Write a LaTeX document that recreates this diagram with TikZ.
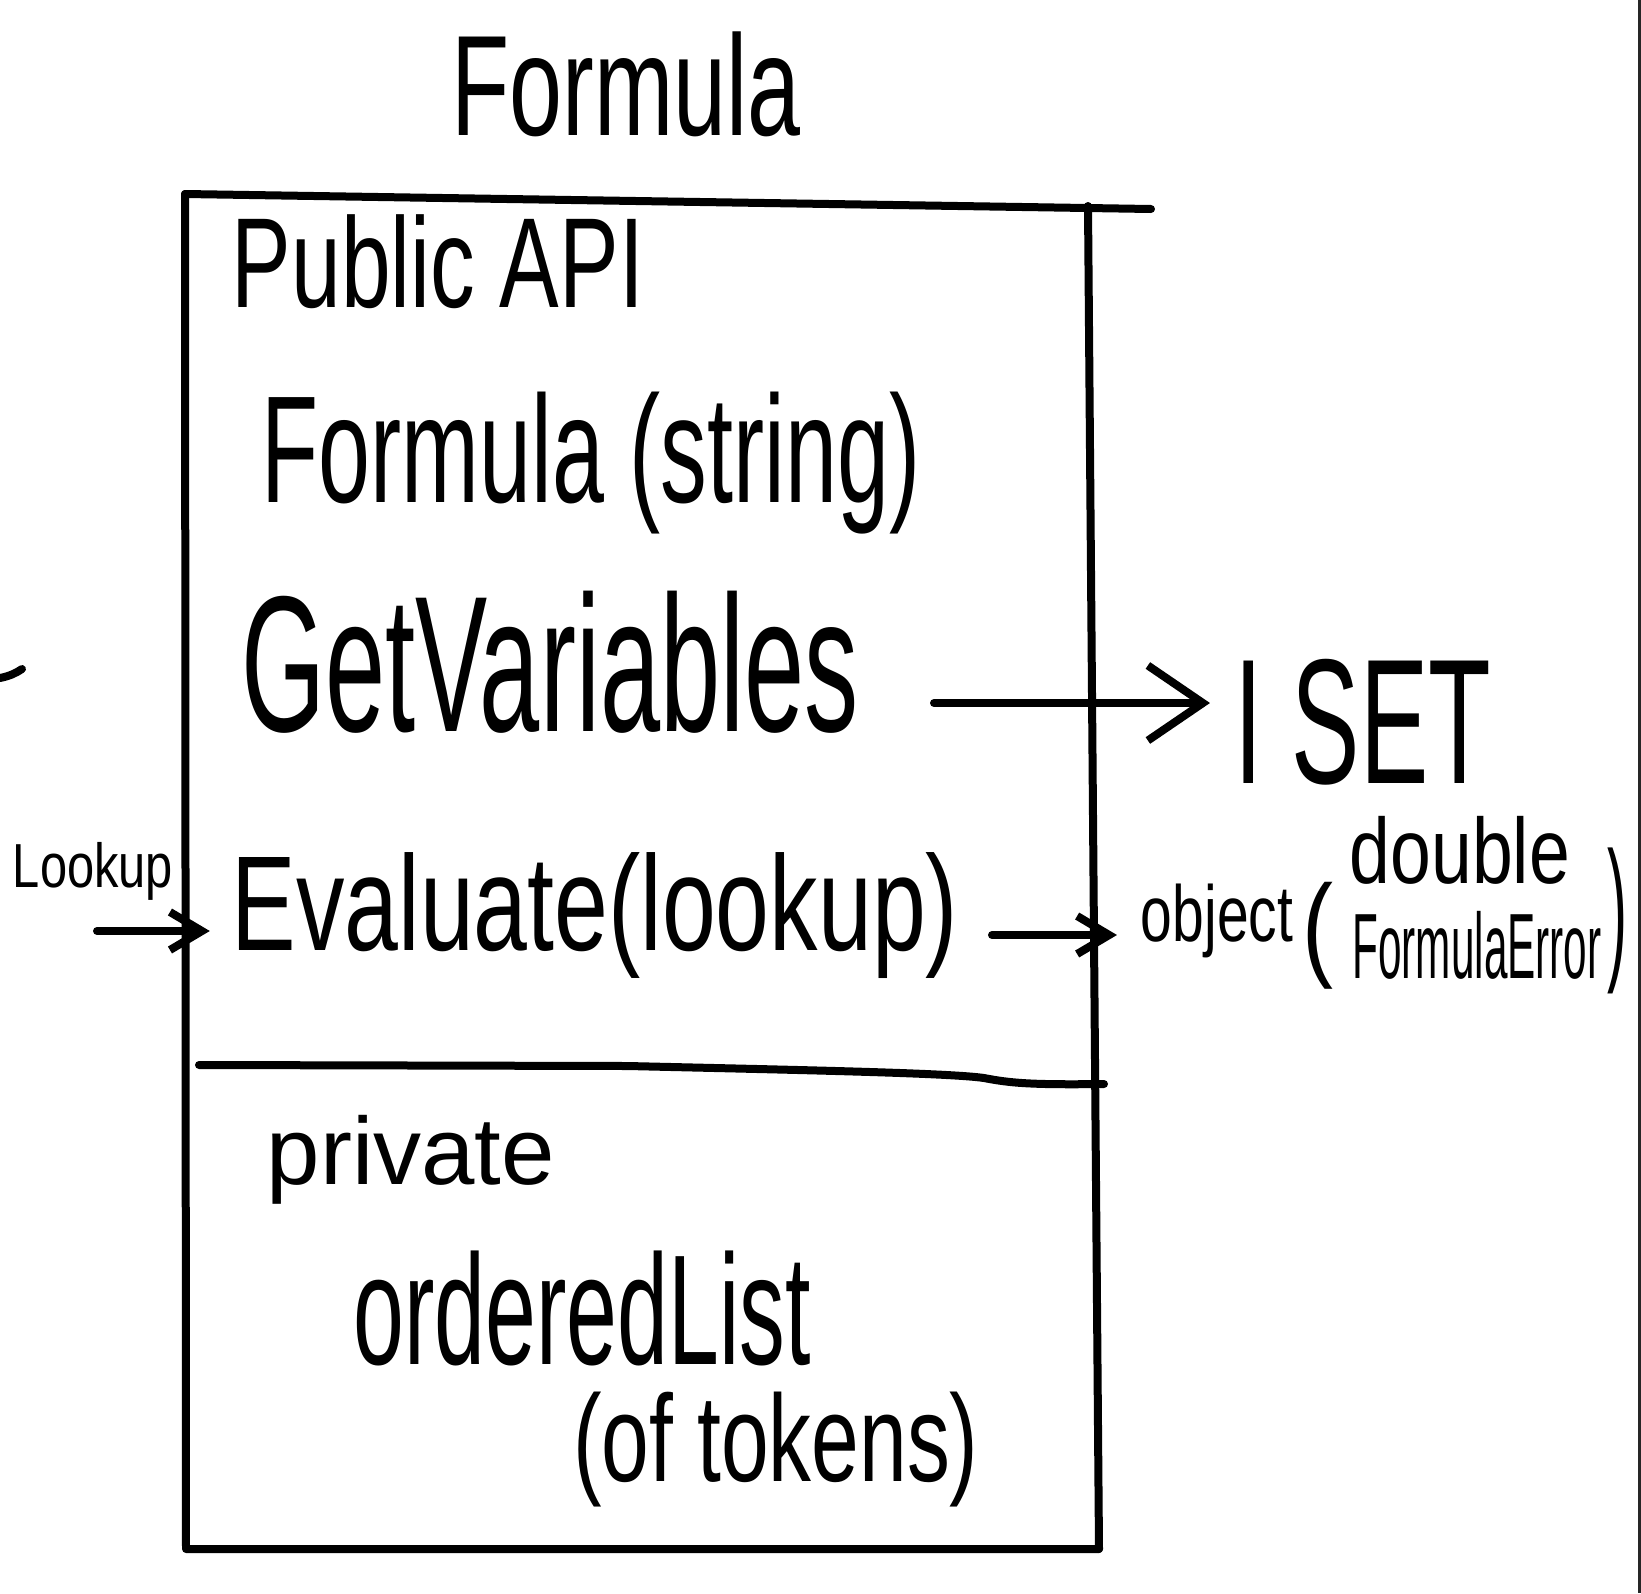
\documentclass[tikz,border=0pt]{standalone}
\usepackage{fontspec}
\setmainfont{Liberation Sans}
\usepackage{graphicx}
\usetikzlibrary{arrows.meta}
\newcommand\fitt[3]{\resizebox*{#1pt}{#2pt}{#3}}
\begin{document}
\begin{tikzpicture}[x=1pt,y=-1pt,line cap=round,line join=round,
  stroke/.style={line width=8pt},
  txt/.style={inner sep=0pt,outer sep=0pt},
  arrbig/.style={stroke,-{Straight Barb[length=55pt,width=75pt]}},
  arrsmall/.style={stroke,-{Straight Barb[length=32pt,width=38pt]}}]
\useasboundingbox (0,0) rectangle (1641,1593);
\fill[white] (0,0) rectangle (1641,1593);
\fill[black!85] (1638,0) rectangle (1641,1593);
% box
\draw[stroke] (185,194) -- (1151,209);
\draw[stroke] (185,194) -- (186,1549) -- (1099,1549);
\draw[stroke] (1088,206) -- (1099,1549);
% divider
\draw[stroke] (199,1065) -- (628,1066) .. controls (800,1070) and (950,1073) .. (984,1078) .. controls (1010,1083) and (1030,1085) .. (1104,1084);
% stray mark
\draw[stroke] (0,678) .. controls (10,676) and (16,673) .. (22,669);
% texts
\node[txt] (title) at (626,84) {\fitt{349}{105}{Formula}};
\node[txt] (pub) at (438,262) {\fitt{412}{94}{Public API}};
\node[txt] (ctor) at (591,463) {\fitt{659}{142}{Formula (string)}};
\node[txt] (gv) at (550,662) {\fitt{617}{142}{GetVariables}};
\node[txt] (iset) at (1363,722) {\fitt{256}{126}{I SET}};
\node[txt] (lk) at (93,871) {\fitt{160}{58}{Lookup}};
\node[txt] (ev) at (595,916) {\fitt{726}{126}{Evaluate(lookup)}};
\node[txt] (obj) at (1217,921) {\fitt{152}{74}{object}};
\node[txt] (lp) at (1318,936) {\fitt{31}{107}{(}};
\node[txt] (dbl) at (1460,850) {\fitt{220}{68}{double}};
\node[txt] (fe) at (1477,945) {\fitt{249}{68}{FormulaError}};
\node[txt] (rp) at (1617,921) {\fitt{20}{146}{)}};
\node[txt] (priv) at (411,1160) {\fitt{288}{89}{private}};
\node[txt] (ol) at (582,1308) {\fitt{457}{115}{orderedList}};
\node[txt] (tok) at (776,1450) {\fitt{405}{115}{(of tokens)}};
% arrows
\coordinate (gvs) at (934,703);
\draw[arrbig,shorten >=25pt] (gvs) -- (gvs -| iset.west);
\coordinate (evs) at (992,935);
\draw[arrsmall,shorten >=24pt] (evs) -- (evs -| obj.west);
\coordinate (lks) at (97,931);
\draw[arrsmall,shorten >=22pt] (lks) -- (lks -| ev.west);
\end{tikzpicture}
\end{document}
